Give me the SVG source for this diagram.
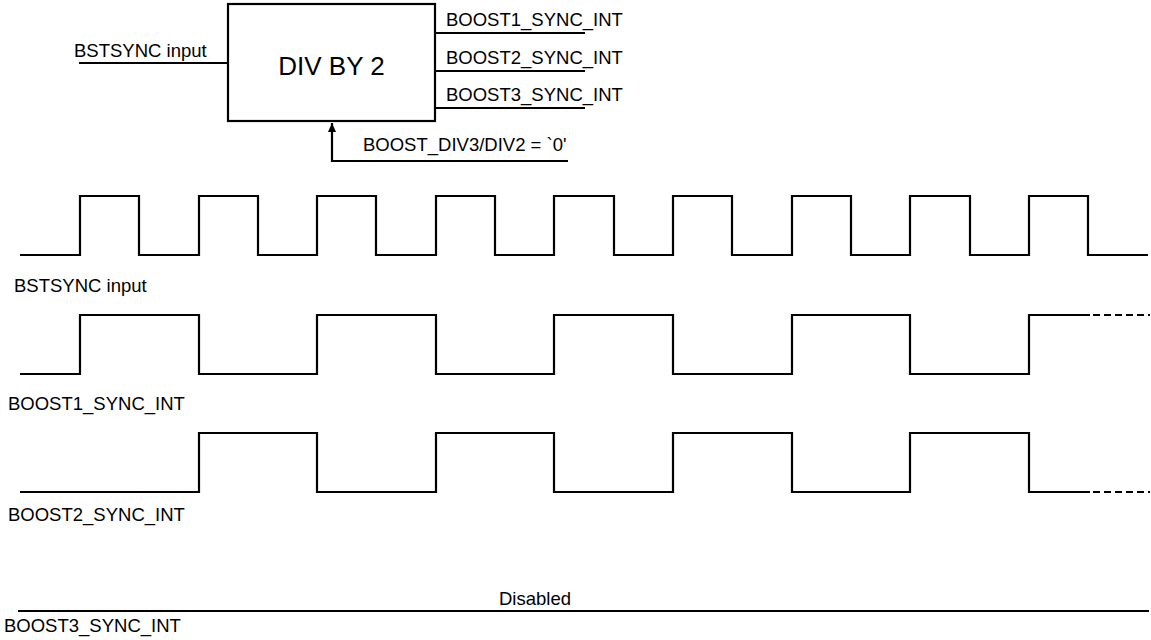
<svg xmlns="http://www.w3.org/2000/svg" width="1151" height="640" viewBox="0 0 1151 640">
<style>
text{font-family:"Liberation Sans",Arial,sans-serif;font-size:18.5px;fill:#000}
.w{fill:none;stroke:#000;stroke-width:2.2;stroke-linejoin:miter}
.d{fill:none;stroke:#000;stroke-width:2.2;stroke-dasharray:7 4}
</style>
<defs>
<marker id="ah" markerWidth="9" markerHeight="8" refX="9" refY="4" orient="auto" markerUnits="userSpaceOnUse">
<path d="M0,0 L9,4 L0,8 Z" fill="#000"/>
</marker>
</defs>
<g id="divider">
<rect x="228" y="4" width="207" height="117" fill="#fff" stroke="#000" stroke-width="2.2"/>
<text x="331.5" y="75" text-anchor="middle" style="font-size:26px">DIV BY 2</text>
</g>
<g id="labels">
<text x="74" y="57">BSTSYNC input</text>
<text x="446" y="26">BOOST1_SYNC_INT</text>
<text x="446" y="64">BOOST2_SYNC_INT</text>
<text x="446" y="101">BOOST3_SYNC_INT</text>
<text x="363" y="151">BOOST_DIV3/DIV2 = `0'</text>
<text x="14" y="292">BSTSYNC input</text>
<text x="8" y="410">BOOST1_SYNC_INT</text>
<text x="8" y="521">BOOST2_SYNC_INT</text>
<text x="535" y="605" text-anchor="middle">Disabled</text>
<text x="4" y="632">BOOST3_SYNC_INT</text>
</g>
<g id="connectors">
<line class="w" x1="79" y1="63" x2="228" y2="63"/>
<line class="w" x1="435" y1="33" x2="585" y2="33"/>
<line class="w" x1="435" y1="71" x2="585" y2="71"/>
<line class="w" x1="435" y1="108" x2="585" y2="108"/>
<polyline class="w" points="568,161 332,161 332,123" marker-end="url(#ah)"/>
</g>
<g id="waves">
<polyline class="w" points="20,255 80,255 80,196 139,196 139,255 199,255 199,196 258,196 258,255 317,255 317,196 376,196 376,255 436,255 436,196 495,196 495,255 554,255 554,196 614,196 614,255 673,255 673,196 732,196 732,255 792,255 792,196 851,196 851,255 910,255 910,196 970,196 970,255 1029,255 1029,196 1088,196 1088,255 1148,255"/>
<polyline class="w" points="20,374 80,374 80,315 199,315 199,374 317,374 317,315 436,315 436,374 554,374 554,315 673,315 673,374 792,374 792,315 910,315 910,374 1029,374 1029,315 1090,315"/>
<line class="d" x1="1093" y1="315" x2="1150" y2="315"/>
<polyline class="w" points="20,492 199,492 199,433 317,433 317,492 436,492 436,433 554,433 554,492 673,492 673,433 792,433 792,492 910,492 910,433 1029,433 1029,492 1090,492"/>
<line class="d" x1="1093" y1="492" x2="1150" y2="492"/>
<line class="w" x1="18" y1="611" x2="1149" y2="611"/>
</g>
</svg>
